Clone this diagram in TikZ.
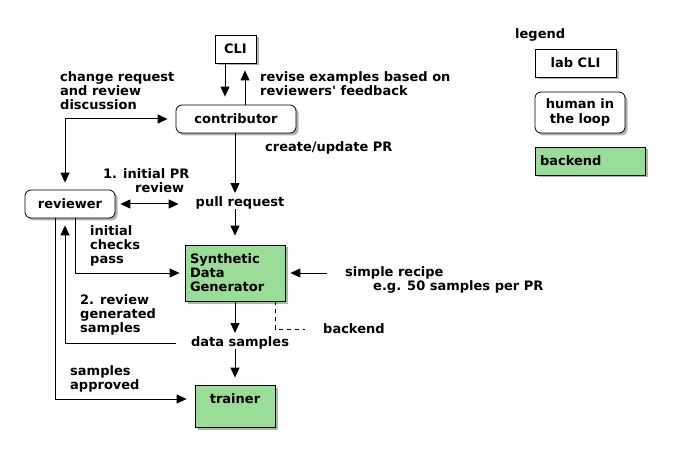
\documentclass[tikz,border=0pt]{standalone}
\usepackage{fontspec}
\setmainfont{DejaVu Sans}
\usetikzlibrary{arrows.meta,shadows,calc}
\definecolor{bgreen}{RGB}{153,221,153}
\begin{document}
\begin{tikzpicture}[x=1pt,y=-1pt,
  font=\fontsize{13}{14}\selectfont\bfseries,
  box/.style={draw=black, line width=0.8pt, fill=white, inner sep=0pt,
    drop shadow={shadow xshift=2.5pt, shadow yshift=-2.5pt, fill=black, opacity=0.3}},
  rbox/.style={box, rounded corners=6pt},
  gbox/.style={box, fill=bgreen},
  lbl/.style={inner sep=0pt, align=left, anchor=west},
  txt/.style={inner sep=0pt},
  arr/.style={-{Triangle[length=10pt,width=9pt]}, line width=1pt},
  darr/.style={{Triangle[length=10pt,width=9pt]}-{Triangle[length=10pt,width=9pt]}, line width=1pt},
  dsh/.style={line width=0.8pt, dash pattern=on 4pt off 4pt}]
\path[use as bounding box, fill=white] (0,0) rectangle (690,462);

% main nodes
\node[box, minimum width=41pt, minimum height=28pt] (cli) at (235.5,49) {CLI};
\node[rbox, minimum width=120pt, minimum height=28pt] (contrib) at (236,119) {contributor};
\node[rbox, minimum width=90pt, minimum height=28pt] (reviewer) at (70,204) {reviewer};
\node[txt] (pr) at (240,203) {pull request};
\node[gbox, minimum width=100pt, minimum height=56pt, text width=90pt, align=left] (sdg) at (235,273) {Synthetic\\Data\\Generator};
\node[txt] (ds) at (240,343) {data samples};
\node[gbox, minimum width=80pt, minimum height=42pt] (trainer) at (235,406) {};
\node[txt] (trainertext) at (235,399) {trainer};

% labels
\node[lbl] (chg) at (60,91) {change request\\and review\\discussion};
\node[lbl] (rev) at (260,84) {revise examples based on\\reviewers\textquotesingle{} feedback};
\node[lbl] (cup) at (265,148) {create/update PR};
\node[lbl] (ipr) at (103,180.5) {1. initial PR\\\hspace*{32pt}review};
\node[lbl] (icp) at (90,246) {initial\\checks\\pass};
\node[lbl] (rgs) at (80,315) {2. review\\generated\\samples};
\node[lbl] (sap) at (70,379) {samples\\approved};
\node[lbl] (recipe) at (345,273) {simple recipe};
\node[lbl] (recipe2) at (373,287) {e.g. 50 samples per PR};
\node[lbl] (bk) at (323,329) {backend};

% legend
\node[lbl] (legend) at (515,35) {legend};
\node[box, minimum width=81pt, minimum height=28pt] (lcli) at (575.5,63) {lab CLI};
\node[rbox, minimum width=90pt, minimum height=41pt, align=center, font=\fontsize{13}{15}\selectfont\bfseries] (lhuman) at (580,112.5) {human in\\the loop};
\node[gbox, minimum width=110pt, minimum height=28pt, text width=100pt, align=left] (lback) at (590,161) {backend};

% connectors
\draw[arr, shorten >=8pt] ([xshift=-10.5pt]cli.south) -- ([xshift=-10.5pt]cli.south |- contrib.north);
\draw[arr, shorten >=7pt] ([xshift=9pt]contrib.north) -- ([xshift=9pt]contrib.north |- cli.south);
\draw[darr, shorten <=7pt, shorten >=8pt] ([xshift=-5pt]reviewer.north) |- (contrib.west);
\draw[arr, shorten >=3.5pt] ([xshift=-1pt]contrib.south) -- ([xshift=-1pt]contrib.south |- pr.north);
\draw[darr, shorten <=5pt, shorten >=17pt] (reviewer.east) -- (reviewer.east -| pr.west);
\draw[arr, shorten >=9pt] (sdg.north |- pr.south) -- (sdg.north);
\draw[arr, shorten >=5pt] ([xshift=5pt]reviewer.south) |- (sdg.west);
\draw[arr, shorten <=18pt, shorten >=5pt] (recipe.west) -- (sdg.east);
\draw[arr, shorten >=3.5pt] (sdg.south) -- (sdg.south |- ds.north);
\draw[dsh, shorten >=18pt] ([xshift=40pt]sdg.south) |- (bk.west);
\draw[arr, shorten <=15pt, shorten >=7pt] (ds.west) -| ([xshift=-5pt]reviewer.south);
\draw[arr, shorten >=7pt] (sdg.south |- ds.south) -- (trainer.north);
\draw[arr, shorten >=8pt] ([xshift=-15pt]reviewer.south) |- ([yshift=7pt]trainer.west);
\end{tikzpicture}
\end{document}
